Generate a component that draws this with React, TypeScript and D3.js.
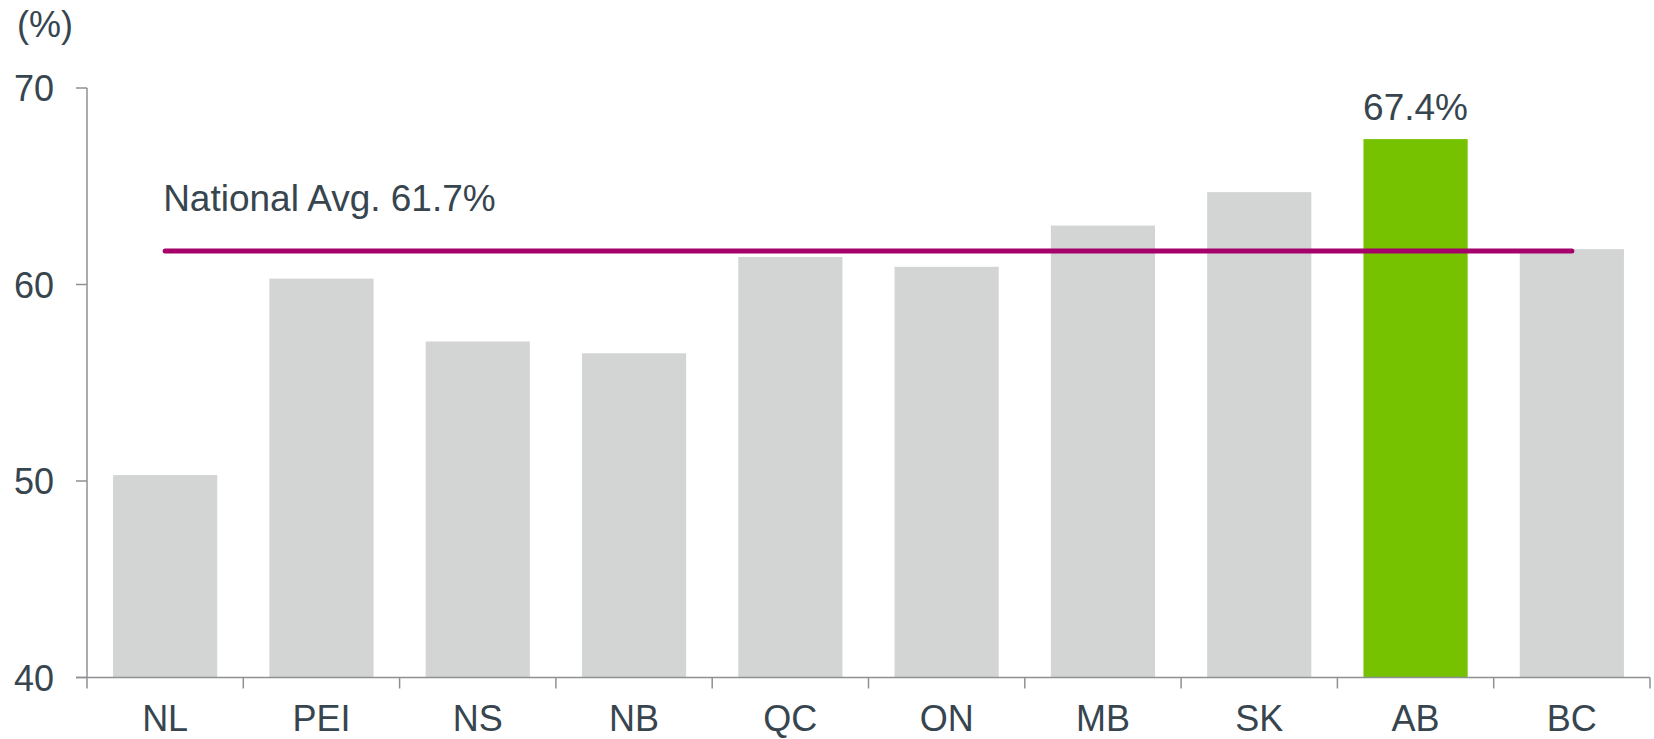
import React from 'react';
import * as d3 from 'd3';

// provinces, left to right
const provinces = ['NL', 'PEI', 'NS', 'NB', 'QC', 'ON', 'MB', 'SK', 'AB', 'BC'];
// participation rate (%)
const rates = [50.3, 60.3, 57.1, 56.5, 61.4, 60.9, 63.0, 64.7, 67.4, 61.8];
const yTicks = [40, 50, 60, 70];
const nationalAvg = 61.7;
const highlight = 'AB';

const W = 1654;
const H = 739;
const FONT = '"Liberation Sans", Arial, Helvetica, sans-serif';
const TEXT = '#37454f';
const AXIS = '#8e9194';

const App = () => {
    const x = d3.scaleBand<string>()
        .domain(provinces)
        .range([87, 1650])
        .paddingInner(1 / 3)
        .paddingOuter(1 / 6);

    const y = d3.scaleLinear()
        .domain([40, 70])
        .range([677.5, 88]);

    const bw = x.bandwidth();
    const half = x.step() * x.paddingInner() / 2;
    // tick marks sit between the bands
    const xTicks = provinces.map(p => (x(p) as number) - half).concat([x.range()[1]]);

    const data = provinces.map((p, i) => ({ p, v: rates[i] }));
    const avgY = y(nationalAvg);
    const avgX1 = (x(provinces[0]) as number) + bw / 2;
    const avgX2 = (x(provinces[provinces.length - 1]) as number) + bw / 2;
    const hi = data.find(d => d.p === highlight)!;

    return (
        <svg width={W} height={H} style={{ position: 'absolute', left: 0, top: 0, background: '#fff' }}
            fontFamily={FONT}>
            <text x={17} y={37} fontSize={36} fill={TEXT}>(%)</text>

            {/* bars */}
            {data.map(d => (
                <rect key={d.p}
                    x={x(d.p)}
                    y={y(d.v)}
                    width={bw}
                    height={y(40) - y(d.v)}
                    fill={d.p === highlight ? '#76c200' : '#d3d5d4'} />
            ))}

            {/* y axis */}
            <line x1={87} x2={87} y1={y(70)} y2={y(40)} stroke={AXIS} strokeWidth={1.5} />
            {yTicks.map(t => (
                <g key={t}>
                    <line x1={76} x2={87} y1={y(t)} y2={y(t)} stroke={AXIS} strokeWidth={1.5} />
                    <text x={54} y={y(t)} dy={13} textAnchor="end" fontSize={36} fill={TEXT}>{t}</text>
                </g>
            ))}

            {/* x axis */}
            <line x1={76} x2={x.range()[1]} y1={y(40)} y2={y(40)} stroke={AXIS} strokeWidth={1.5} />
            {xTicks.map((t, i) => (
                <line key={i} x1={t} x2={t} y1={y(40)} y2={y(40) + 11} stroke={AXIS} strokeWidth={1.5} />
            ))}
            {provinces.map(p => (
                <text key={p} x={(x(p) as number) + bw / 2} y={731} textAnchor="middle" fontSize={36} fill={TEXT}>{p}</text>
            ))}

            {/* national average */}
            <line x1={avgX1} x2={avgX2} y1={avgY} y2={avgY} stroke="#a6006b" strokeWidth={5} strokeLinecap="round" />
            <text x={avgX1 - 2} y={211} fontSize={37} fill={TEXT}>National Avg. {nationalAvg}%</text>

            {/* highlight label */}
            <text x={(x(hi.p) as number) + bw / 2} y={y(hi.v) - 19} textAnchor="middle" fontSize={37} fill={TEXT}>{hi.v}%</text>
        </svg>
    );
};

export default App;
